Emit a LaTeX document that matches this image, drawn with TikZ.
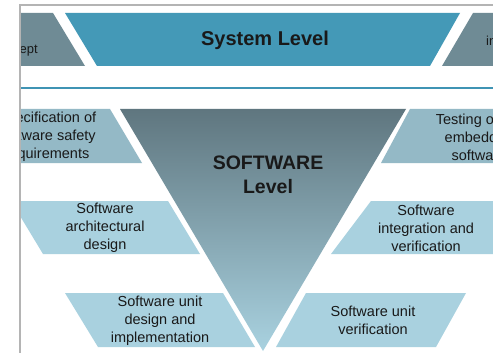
\documentclass[tikz,border=0pt]{standalone}
\usepackage{fontspec}
\setmainfont{Liberation Sans}
\definecolor{bandblue}{HTML}{4499B7}
\definecolor{bandgray}{HTML}{6F8B95}
\definecolor{boxdark}{HTML}{94B9C6}
\definecolor{boxlight}{HTML}{A9D1DF}
\definecolor{tritop}{HTML}{5F767F}
\definecolor{tribot}{HTML}{A9D2E0}
\definecolor{framegray}{HTML}{B4B4B4}
\definecolor{lineblue}{HTML}{3F94B4}
\begin{document}
\begin{tikzpicture}[x=1pt,y=-1pt,
  boxtext/.style={align=center,font=\fontsize{14.5}{18}\selectfont,text=black!90,inner sep=0pt},
  bigtext/.style={align=center,font=\fontsize{20}{25}\selectfont\bfseries,text=black!90,inner sep=0pt},
  smalltext/.style={font=\fontsize{13}{16}\selectfont,text=black!90,inner sep=0pt}]
\useasboundingbox (0,0) rectangle (493,353);
\fill[white] (0,0) rectangle (493,353);
\begin{scope}
\clip (21,6) rectangle (493,353);
% top band
\fill[bandgray] (0,13) -- (53,13) -- (85,66) -- (0,66) -- cycle;
\fill[bandblue] (65,13) -- (460,13) -- (430,66) -- (97,66) -- cycle;
\fill[bandgray] (473,13) -- (500,13) -- (500,66) -- (442,66) -- cycle;
\node[bigtext] (sys) at (265,40) {System Level};
\node[smalltext,anchor=east] (concept) at (38,50) {Concept};
\node[smalltext,anchor=west] (integ) at (486,42) {integration};
% separator line
\draw[lineblue,line width=1.6pt] (21,88) -- (493,88);
% triangle
\shade[top color=tritop,bottom color=tribot] (120,109) -- (406,109) -- (263,351) -- cycle;
\node[bigtext,font=\fontsize{19.5}{24}\selectfont\bfseries] (sw) at (268,175) {SOFTWARE\\Level};
% left boxes
\fill[boxdark] (0,109) -- (110,109) -- (142,163) -- (0,163) -- cycle;
\node[boxtext] (l1) at (47,137) {Specification of\\software safety\\requirements};
\fill[boxlight] (11,201) -- (168,201) -- (200,254) -- (43,254) -- cycle;
\node[boxtext] (l2) at (105,228) {Software\\architectural\\design};
\fill[boxlight] (65,293) -- (223,293) -- (255,347) -- (98,347) -- cycle;
\node[boxtext] (l3) at (160,321) {Software unit\\design and\\implementation};
% right boxes
\fill[boxdark] (410,109) -- (500,109) -- (500,163) -- (381,163) -- cycle;
\node[boxtext] (r1) at (479,137) {Testing of the\\embedded\\software};
\fill[boxlight] (371,201) -- (500,201) -- (500,254) -- (331,254) -- cycle;
\node[boxtext] (r2) at (426,228) {Software\\integration and\\verification};
\fill[boxlight] (306,293) -- (466,293) -- (436,347) -- (276,347) -- cycle;
\node[boxtext] (r3) at (373,320) {Software unit\\verification};
\end{scope}
% frame
\draw[framegray,line width=1.5pt] (20,360) -- (20,5) -- (500,5);
\end{tikzpicture}
\end{document}
